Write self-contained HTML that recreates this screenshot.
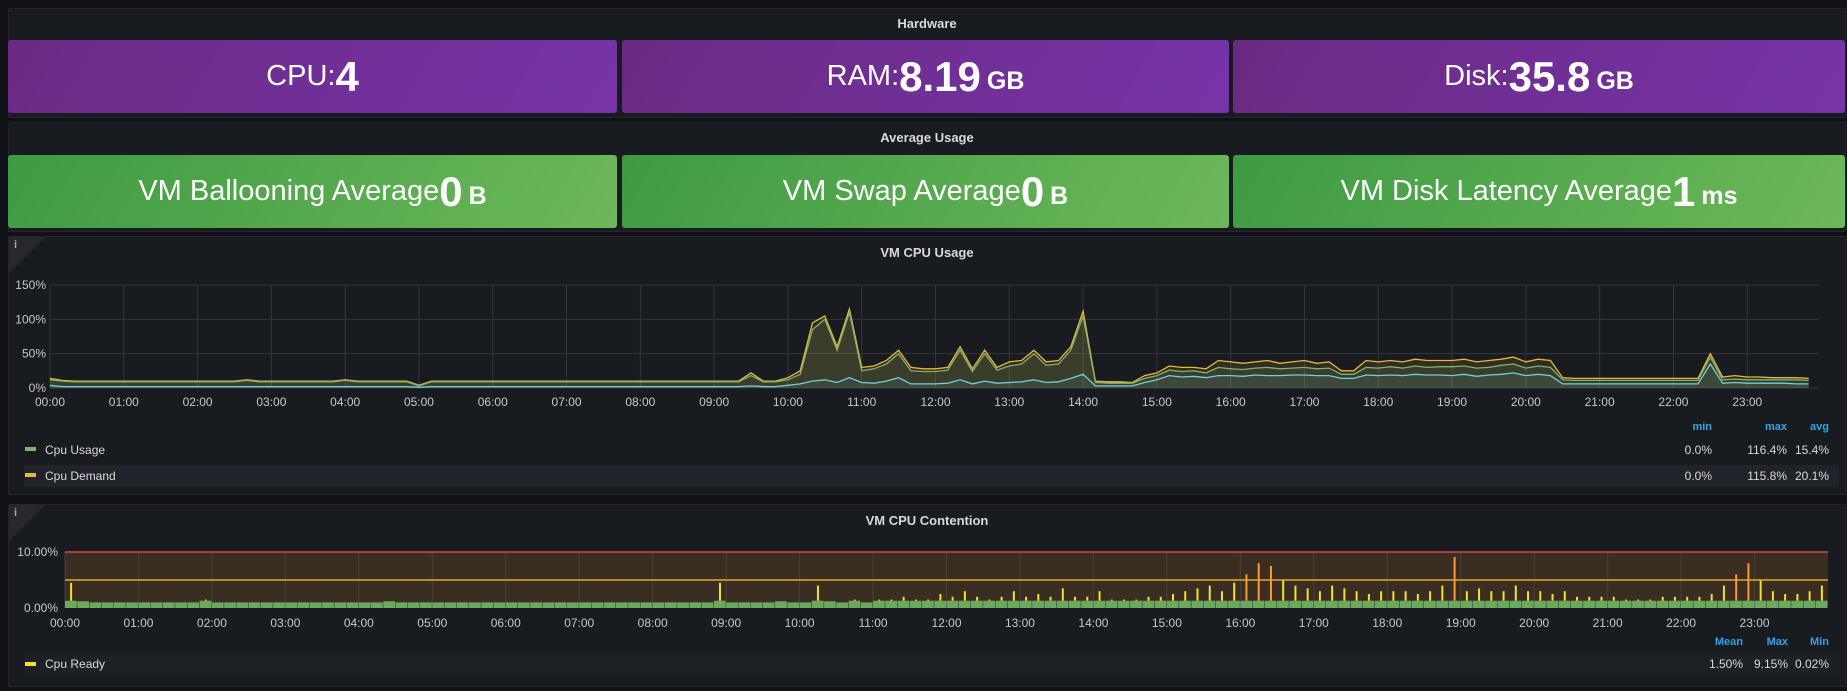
<!DOCTYPE html>
<html><head><meta charset="utf-8">
<style>
html,body{margin:0;padding:0;background:#111217;width:1847px;height:691px;overflow:hidden;font-family:"Liberation Sans",sans-serif;color:#d8d9da}
.panel{position:absolute;background:#181b1f;border:1px solid #24262b;border-radius:2px;box-sizing:border-box}
.ptitle{position:absolute;left:0;right:0;text-align:center;font-size:13px;font-weight:bold;color:#d8d9da}
.tile{position:absolute;border-radius:3px;display:flex;align-items:center;justify-content:center;color:#fff;white-space:nowrap}
.purple{background:linear-gradient(120deg,#6a2a82,#7634a8)}
.green{background:linear-gradient(120deg,#3e9a42,#6db85a)}
.lbl{font-size:29px}
.val{font-size:42px;font-weight:bold}
.unit{font-size:25px;font-weight:bold;margin-left:6px;position:relative;top:5px}
svg text{font-family:"Liberation Sans",sans-serif}
.info{position:absolute;left:0;top:0;width:0;height:0;border-top:36px solid #26282d;border-right:36px solid transparent}
.info span{position:absolute;top:-34px;left:5px;font-size:11px;color:#aaa;font-weight:bold}
</style></head><body>

<div class="panel" style="left:8px;top:8px;width:1838px;height:110px">
  <div class="ptitle" style="top:7px">Hardware</div>
</div>
<div class="tile purple" style="left:8px;top:40px;width:609px;height:73px"><span class="lbl">CPU:</span><span class="val">4</span></div>
<div class="tile purple" style="left:622px;top:40px;width:607px;height:73px"><span class="lbl">RAM:</span><span class="val">8.19</span><span class="unit">GB</span></div>
<div class="tile purple" style="left:1233px;top:40px;width:612px;height:73px"><span class="lbl">Disk:</span><span class="val">35.8</span><span class="unit">GB</span></div>

<div class="panel" style="left:8px;top:122px;width:1838px;height:110px">
  <div class="ptitle" style="top:7px">Average Usage</div>
</div>
<div class="tile green" style="left:8px;top:155px;width:609px;height:73px"><span class="lbl">VM Ballooning Average</span><span class="val">0</span><span class="unit">B</span></div>
<div class="tile green" style="left:622px;top:155px;width:607px;height:73px"><span class="lbl">VM Swap Average</span><span class="val">0</span><span class="unit">B</span></div>
<div class="tile green" style="left:1233px;top:155px;width:612px;height:73px"><span class="lbl">VM Disk Latency Average</span><span class="val">1</span><span class="unit">ms</span></div>

<div class="panel" style="left:8px;top:236px;width:1838px;height:259px">
  <div class="info"><span>i</span></div>
  <div class="ptitle" style="top:8px">VM CPU Usage</div>
</div>
<div class="panel" style="left:8px;top:504px;width:1838px;height:183px">
  <div class="info"><span>i</span></div>
  <div class="ptitle" style="top:8px">VM CPU Contention</div>
</div>

<svg id="chart" width="1847" height="691" style="position:absolute;left:0;top:0"></svg>

<script>
const hourLabels=["00:00","01:00","02:00","03:00","04:00","05:00","06:00","07:00","08:00","09:00","10:00","11:00","12:00","13:00","14:00","15:00","16:00","17:00","18:00","19:00","20:00","21:00","22:00","23:00"];
const usageTicks=[0,50,100,150];
const readyTicks=[0,10];
const cpuDemand=[14,11,10,10,10,10, 10,10,10,10,10,10, 10,10,10,10,12,10, 10,10,10,10,10,10, 12,10,10,10,10,10, 4,10,10,10,10,10, 10,10,10,10,10,10, 10,10,10,10,10,10, 10,10,10,10,10,10, 10,10,10,22,10,10,
15,25,95,105,60,115, 30,32,40,55,30,28, 28,30,60,28,55,30, 38,40,55,38,40,60, 112,10,9,9,8,18, 22,32,30,30,28,40, 38,36,38,40,36,38, 40,36,38,25,25,40, 38,40,38,42,40,40, 40,42,38,40,42,45, 38,42,40,15,14,14, 14,14,14,14,14,14, 14,14,14,50,16,18, 16,16,15,15,15,14];
const cpuUsage=[12,10,9,9,9,9, 9,9,9,9,9,9, 9,9,9,9,11,9, 9,9,9,9,9,9, 11,9,9,9,9,9, 3,9,9,9,9,9, 9,9,9,9,9,9, 9,9,9,9,9,9, 9,9,9,9,9,9, 9,9,9,18,9,9,
12,20,85,100,55,110, 25,28,35,50,25,24, 24,26,55,24,50,26, 32,35,50,33,35,55, 105,8,7,7,7,14, 18,26,24,25,22,30, 28,27,29,30,28,29, 30,28,29,20,20,30, 29,31,29,32,30,31, 31,32,29,30,33,35, 29,32,30,12,11,11, 11,11,11,11,11,11, 11,11,11,45,12,13, 12,12,12,12,12,11];
const cpuCore=[4,2,2,2,2,2, 2,2,2,2,2,2, 2,2,2,2,2,2, 2,2,2,2,2,2, 2,2,2,2,2,2, 1,2,2,2,2,2, 2,2,2,2,2,2, 2,2,2,2,2,2, 2,2,2,2,2,2, 2,2,2,3,2,2,
4,6,10,12,8,15, 8,7,10,15,6,6, 6,7,12,6,10,7, 8,9,12,8,9,14, 20,3,3,3,3,8, 12,18,16,17,15,18, 18,17,19,18,18,19, 19,18,18,14,14,19, 18,19,18,20,19,19, 18,20,17,19,20,22, 18,20,18,6,6,6, 6,6,6,6,6,6, 6,6,6,35,7,8, 7,7,7,7,6,6];
const cpuReady=[4.5,1.2,1,1,1,1, 1,1,1,1,1,1.5, 1,1,1,1,1,1, 1,1,1,1,1,1, 1,1,1.2,1,1,1, 1,1,1,1,1,1, 1,1,1,1,1,1, 1,1,1,1,1,1, 1,1,1,1,1,4.5, 1,1,1,1,1.2,1,
1,4,1.2,1,1.5,1, 1.5,1.5,2,1.5,1.5,2.5, 2,3,2,1.5,2,3, 2,2.5,2,3.5,2,2, 3,1.5,1.5,1.5,2,2, 2.5,3,3.5,4,3,4.5, 6,8,7.5,5,4,3.5, 3,4,3.5,3,2.5,3, 3,3,2.5,3,4,9.1, 3,3.5,3,3,4,3, 3,2.5,3,2,2,2, 2,1.5,1.5,1.5,2,2, 2,2,2.5,4,6,8, 5,3,2.5,2.5,3,4];
const readyThresholds=[5,10];

const svg=document.getElementById('chart');
const NS='http://www.w3.org/2000/svg';
function mk(tag,attrs,parent){const e=document.createElementNS(NS,tag);for(const k in attrs)e.setAttribute(k,attrs[k]);(parent||svg).appendChild(e);return e;}

// ---- CPU usage chart ----
const A={x0:50,x1:1821,y0:388,y1:285,max:150};
const ax=h=>A.x0+(A.x1-A.x0)*h/24;
const ay=v=>A.y0-(A.y0-A.y1)*v/A.max;
usageTicks.forEach(t=>{
  const l=mk('line',{x1:A.x0,x2:1819,y1:ay(t),y2:ay(t),stroke:'#34363b','stroke-width':1});
  
  
  const tx=mk('text',{x:A.x0-4,y:ay(t)+4,'text-anchor':'end','font-size':12,fill:'#c7c8ca'});
  tx.textContent=t+'%';
  
  
});
hourLabels.forEach((lab,i)=>{
  const l=mk('line',{x1:ax(i),x2:ax(i),y1:A.y1,y2:A.y0,stroke:'#34363b','stroke-width':1});
  
  
  const tx=mk('text',{x:ax(i),y:406,'text-anchor':'middle','font-size':12,fill:'#c7c8ca'});
  tx.textContent=lab;
  
  
});
function series(arr,color,name,fillOp){
  const n=arr.length;const pts=arr.map((v,i)=>[ax(i*24/n),ay(v)]);
  const d='M'+pts.map(p=>p[0].toFixed(1)+','+p[1].toFixed(1)).join('L');
  const f=mk('path',{d:d+'L'+ax(24*(n-1)/n)+','+A.y0+'L'+A.x0+','+A.y0+'Z',fill:color,'fill-opacity':fillOp,stroke:'none'});
  
  
  const p=mk('path',{d:d,fill:'none',stroke:color,'stroke-width':1.3});
  
  
}
series(cpuDemand,'#eab839','cpu-demand',0.12);
series(cpuUsage,'#7eb26d','cpu-usage',0.12);
series(cpuCore,'#6ed0e0','cpu-core',0.08);

// legend 1
function legendHead(labels,xs,y){labels.forEach((t,i)=>{const e=mk('text',{x:xs[i],y:y,'text-anchor':'end','font-size':11,'font-weight':'bold',fill:'#33a2e5'});e.textContent=t;
 
 });}
const lx=[1712,1787,1829];
legendHead(['min','max','avg'],lx,430);
[[cpuUsage,'Cpu Usage','#7eb26d',450,['0.0%','116.4%','15.4%']],[cpuDemand,'Cpu Demand','#eab839',476,['0.0%','115.8%','20.1%']]].forEach((r,k)=>{
  if(k==1){const b=mk('rect',{x:24,y:465,width:1815,height:22,fill:'#202329'});}
  const s=mk('rect',{x:25,y:r[3]-3,width:11,height:4,fill:r[2]});
  
  
  const t=mk('text',{x:45,y:r[3]+4,'font-size':12,fill:'#d8d9da'});t.textContent=r[1];
  
  
  r[4].forEach((v,i)=>{const e=mk('text',{x:lx[i],y:r[3]+4,'text-anchor':'end','font-size':12,fill:'#d8d9da'});e.textContent=v;
    
    });
});

// ---- CPU contention chart ----
const B={x0:65,x1:1828,y0:608,y1:552,max:10};
const bx=h=>B.x0+(B.x1-B.x0)*h/24;
const by=v=>B.y0-(B.y0-B.y1)*v/B.max;
const band=mk('rect',{x:B.x0,y:by(readyThresholds[1]),width:B.x1-B.x0,height:by(0)-by(readyThresholds[1]),fill:'#3a2e22'});


hourLabels.forEach((lab,i)=>{
  const l=mk('line',{x1:bx(i),x2:bx(i),y1:B.y1,y2:B.y0,stroke:'#4a4136','stroke-width':1});
  
  
  const tx=mk('text',{x:bx(i),y:627,'text-anchor':'middle','font-size':12,fill:'#c7c8ca'});
  tx.textContent=lab;
  
  
});
readyTicks.forEach(t=>{const tx=mk('text',{x:B.x0-7,y:by(t)+4,'text-anchor':'end','font-size':12,fill:'#c7c8ca'});
  tx.textContent=t.toFixed(2)+'%';
  
  });
const bw=(B.x1-B.x0)/cpuReady.length;
cpuReady.forEach((v,i)=>{
  const x=bx(i*24/cpuReady.length);
  const base=Math.min(v,1.3);
  const g=mk('rect',{x:x,y:by(base),width:bw-0.5,height:by(0)-by(base),fill:'#73bf69','fill-opacity':0.85});
  
  
  if(v>base){const s=mk('rect',{x:x+bw/2-1,y:by(v),width:2,height:by(base)-by(v),fill:v>5?'#ff9830':'#fade2a'});
    
    }
});
const tc=['#eab839','#e0484b'];
readyThresholds.forEach((t,i)=>{const l=mk('line',{x1:B.x0,x2:B.x1,y1:by(t),y2:by(t),stroke:i?'#d44a4a':'#e5a82e','stroke-width':1.5});
  
  });
const lx2=[1743,1788,1829];
legendHead(['Mean','Max','Min'],lx2,645);
const rb=mk('rect',{x:24,y:654,width:1815,height:22,fill:'#1d2025'});


const sw=mk('rect',{x:25,y:662,width:11,height:4,fill:'#fade2a'});


const lt=mk('text',{x:45,y:668,'font-size':12,fill:'#d8d9da'});lt.textContent='Cpu Ready';


['1.50%','9.15%','0.02%'].forEach((v,i)=>{const e=mk('text',{x:lx2[i],y:668,'text-anchor':'end','font-size':12,fill:'#d8d9da'});e.textContent=v;
  
  });
</script>
</body></html>
